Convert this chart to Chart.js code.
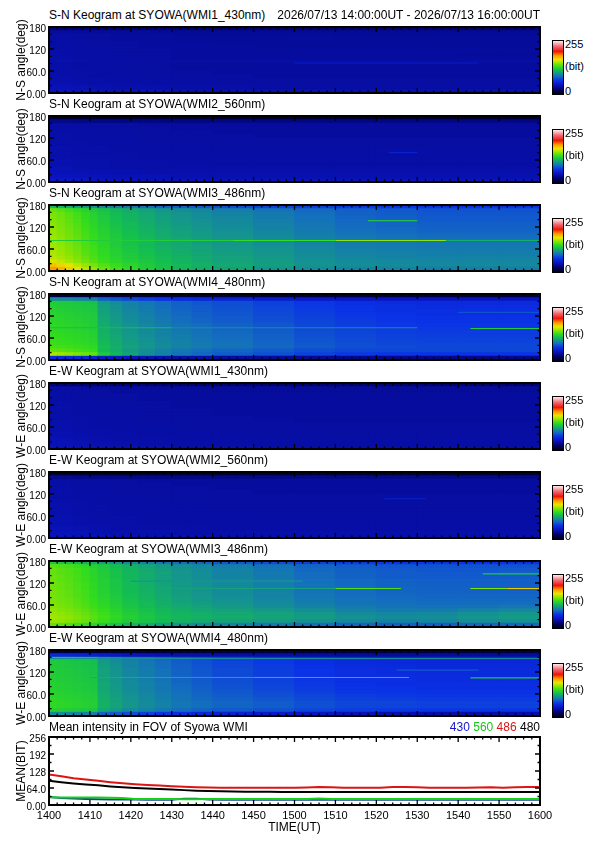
<!DOCTYPE html>
<html>
<head>
<meta charset="utf-8">
<script src="https://cdn.jsdelivr.net/npm/chart.js@4/dist/chart.umd.min.js"></script>
<style>
  body { margin: 0; width: 595px; height: 842px; background: #fff; position: relative; overflow: hidden;
         font-family: "Liberation Sans", Arial, sans-serif; color: #000; }
  canvas { position: absolute; left: 0; }
  .txt { position: absolute; font-size: 12px; line-height: 14px; white-space: nowrap; }
  .cbar { position: absolute; left: 552px; width: 10px; border: 1px solid #000; }
  .cbl { position: absolute; left: 565px; font-size: 11px; line-height: 12px; white-space: nowrap; }
</style>
</head>
<body>
<script>
// ---- time / angle bins (minutes after 14:00 UT, degrees) ----
const timeEdges = [0, 2, 4, 6, 8, 10, 12, 15, 18, 22, 26, 30, 35, 40, 50, 60, 70, 80, 90, 100, 110, 120];
const angleRows = [175, 165, 155, 145, 135, 125, 115, 105, 95, 85, 75, 65, 55, 45, 35, 25, 15, 5];
const angleTicks = [0, 60, 120, 180];
const angleTickLabels = ['0.00', '60.0', '120', '180'];
const timeTicks = [0, 10, 20, 30, 40, 50, 60, 70, 80, 90, 100, 110, 120];
const timeTickLabels = ['1400', '1410', '1420', '1430', '1440', '1450', '1500', '1510', '1520', '1530', '1540', '1550', '1600'];

// ---- keogram intensities (bit), rows top (175 deg) to bottom (5 deg), one value per time bin ----
const snWmi1 = [
  [22,22,22,22,22,22,22,22,22,22,22,22,22,22,22,22,22,22,22,22,22],
  [36,36,36,36,36,35,35,35,35,35,34,34,34,34,34,34,34,34,34,34,34],
  [38,38,38,37,37,37,37,36,36,36,36,35,35,35,35,35,35,35,35,35,35],
  [38,38,38,37,37,37,37,36,36,36,36,35,35,35,35,36,35,35,35,35,35],
  [38,38,38,38,38,37,37,37,37,36,36,36,36,35,35,35,35,36,35,35,35],
  [38,38,38,38,38,37,37,37,37,36,36,36,36,36,35,35,35,35,35,35,35],
  [39,39,39,38,38,38,38,37,37,37,37,36,36,36,36,36,36,36,36,36,36],
  [39,39,39,38,38,38,38,37,37,37,37,36,36,36,36,36,36,36,36,35,35],
  [39,39,39,38,38,38,38,37,37,37,37,36,36,36,36,36,36,36,36,36,36],
  [40,40,40,39,39,38,38,38,38,37,37,37,37,37,37,38,38,38,37,37,37],
  [39,39,39,38,38,38,38,37,37,37,37,36,36,36,36,36,36,36,36,36,36],
  [39,39,39,38,38,38,38,37,37,37,37,36,36,36,36,36,36,36,36,36,36],
  [39,39,39,39,39,38,38,38,38,37,37,37,37,36,36,36,36,36,36,36,36],
  [40,40,40,39,39,38,38,38,38,37,37,37,37,37,36,36,36,36,36,36,36],
  [40,40,40,39,39,39,39,38,38,38,38,37,37,37,37,37,37,37,37,37,37],
  [41,41,41,40,40,39,39,39,39,38,38,38,38,37,37,37,37,37,37,37,37],
  [43,43,43,42,42,41,41,40,40,40,40,39,39,39,38,38,38,38,38,38,38],
  [45,45,45,44,44,43,43,42,42,42,42,41,41,40,40,40,40,40,40,40,40]
];
const snWmi2 = [
  [8,8,8,8,8,8,8,8,8,8,8,8,8,8,8,8,8,8,8,8,8],
  [30,30,30,29,29,29,29,28,28,28,28,28,28,28,28,28,28,28,28,28,28],
  [38,38,38,37,37,37,37,37,37,36,36,36,36,36,36,36,36,36,36,36,36],
  [38,38,38,38,38,37,37,37,37,37,37,36,36,36,36,36,36,36,36,36,36],
  [39,39,39,38,38,38,38,37,37,37,37,37,37,36,36,36,36,36,36,36,36],
  [39,39,39,38,38,38,38,38,38,37,37,37,37,37,36,36,36,36,36,36,36],
  [39,39,39,38,38,38,38,38,38,37,37,37,37,37,37,37,37,37,37,37,37],
  [39,39,39,39,39,38,38,38,38,38,38,37,37,37,37,37,37,37,37,37,37],
  [40,40,40,39,39,39,39,38,38,38,38,38,38,37,37,37,37,37,37,37,37],
  [40,40,40,39,39,39,39,38,38,38,38,38,38,38,38,38,38,39,38,38,38],
  [40,40,40,39,39,39,39,39,39,38,38,38,38,38,38,38,38,38,38,38,38],
  [40,40,40,40,40,39,39,39,39,38,38,38,38,38,38,38,38,38,38,38,38],
  [41,41,41,40,40,40,40,39,39,39,39,38,38,38,38,38,38,38,38,38,38],
  [41,41,41,40,40,40,40,39,39,39,39,39,39,38,38,38,38,38,38,38,38],
  [42,42,42,41,41,40,40,40,40,39,39,39,39,39,39,39,39,39,39,39,39],
  [43,43,43,42,42,41,41,41,41,40,40,40,40,40,40,40,40,40,40,40,40],
  [45,45,45,44,44,43,43,42,42,42,42,41,41,41,41,41,41,41,41,41,41],
  [47,47,47,46,46,45,45,44,44,43,43,43,43,42,42,42,42,42,42,42,42]
];
const snWmi3 = [
  [112,110,107,104,101,98,95,92,89,86,83,80,78,75,72,70,68,67,66,66,66],
  [140,137,133,129,125,121,117,112,108,104,100,97,94,91,87,83,80,78,76,76,76],
  [144,141,137,133,128,124,119,114,110,106,102,99,96,93,89,85,81,79,77,77,77],
  [145,142,138,134,129,125,120,115,111,107,103,100,97,94,90,86,82,80,78,78,78],
  [146,143,139,135,130,126,121,116,112,108,104,101,98,95,91,87,83,81,79,79,79],
  [147,144,140,136,131,127,122,117,113,109,105,102,99,96,92,88,84,82,80,80,80],
  [148,145,141,137,132,128,123,118,114,110,106,103,100,97,93,89,85,83,81,81,81],
  [149,146,142,138,133,129,124,119,115,111,107,104,101,98,94,90,86,84,82,82,82],
  [150,147,143,139,134,130,125,120,116,112,108,105,102,99,95,91,88,86,84,84,84],
  [151,148,144,140,135,131,126,121,117,113,109,106,103,100,97,93,90,88,87,86,86],
  [151,148,144,140,135,131,126,121,117,113,109,106,103,100,97,93,90,89,88,88,88],
  [152,149,145,141,136,132,127,122,118,114,110,107,104,101,98,94,91,90,89,89,89],
  [153,150,146,142,137,133,128,123,119,115,111,108,105,102,99,95,92,91,90,90,90],
  [154,151,147,143,138,134,129,124,120,116,112,109,106,103,100,96,93,92,91,91,91],
  [156,153,149,145,140,135,130,125,121,117,113,110,107,104,101,97,94,93,92,92,92],
  [161,157,153,148,143,138,132,127,123,119,115,111,108,105,102,98,96,95,94,94,94],
  [174,169,163,156,150,144,137,131,126,121,117,113,110,107,103,99,97,96,95,95,95],
  [184,178,171,163,156,149,141,134,128,122,117,112,108,105,100,96,93,92,91,91,91]
];
const snWmi4 = [
  [14,14,14,14,13,13,13,13,12,12,12,12,12,12,12,12,12,12,12,12,12],
  [96,95,94,93,92,91,80,76,72,68,64,61,58,55,51,48,46,45,45,45,45],
  [122,121,120,119,118,117,102,97,92,88,84,80,77,74,70,66,63,61,60,60,60],
  [123,122,121,120,119,118,103,98,93,89,85,81,78,75,71,67,64,62,61,61,61],
  [124,123,122,121,120,119,104,99,94,90,86,82,79,76,72,68,65,63,62,62,62],
  [125,124,123,122,121,120,105,100,95,91,87,83,80,77,73,69,66,64,63,63,63],
  [126,125,124,123,122,121,106,101,96,92,88,84,81,78,74,70,67,65,64,64,64],
  [127,126,125,124,123,121,107,102,97,93,89,85,82,79,75,71,68,66,65,65,65],
  [128,127,126,125,124,122,108,103,98,94,90,87,84,81,77,72,69,67,66,66,66],
  [128,127,126,125,124,122,109,104,99,95,91,88,85,82,78,73,70,68,67,67,67],
  [129,128,127,126,125,123,110,105,100,96,92,89,86,83,79,74,71,69,68,68,68],
  [130,129,128,127,126,124,111,106,101,97,93,90,87,84,80,75,72,70,69,69,69],
  [131,130,129,128,127,125,112,107,102,98,94,91,88,85,81,76,73,71,70,70,70],
  [132,131,130,129,128,126,113,108,103,99,95,92,89,86,82,77,74,72,71,71,71],
  [134,133,132,131,130,128,115,109,104,100,96,93,90,87,83,78,75,73,72,72,72],
  [139,138,136,134,132,130,114,108,102,97,92,88,85,82,78,74,72,72,72,72,72],
  [154,151,148,145,142,139,120,112,104,97,92,87,83,79,75,70,67,66,65,65,65],
  [60,59,58,57,56,55,48,46,44,42,40,38,37,36,34,32,31,30,30,30,30]
];
const ewWmi1 = [
  [24,24,24,24,24,24,24,24,24,24,24,24,24,24,24,24,24,24,24,24,24],
  [37,37,37,37,36,36,36,36,36,35,35,35,35,35,35,35,35,35,35,35,35],
  [38,38,38,37,37,37,37,36,36,36,36,36,36,35,35,35,35,35,35,35,35],
  [38,38,38,37,37,37,37,37,37,36,36,36,36,36,36,36,36,36,36,36,36],
  [38,38,38,38,38,37,37,37,37,36,36,36,36,36,36,36,36,36,36,36,36],
  [39,39,39,38,38,37,37,37,37,37,37,36,36,36,36,36,36,36,36,36,36],
  [39,39,39,38,38,38,38,37,37,37,37,36,36,36,36,36,36,36,36,36,36],
  [39,39,39,38,38,38,38,37,37,37,37,37,37,36,36,36,36,36,36,36,36],
  [39,39,39,38,38,38,38,38,38,37,37,37,37,36,36,36,36,36,36,36,36],
  [39,39,39,39,39,38,38,38,38,37,37,37,37,37,36,36,36,36,36,36,36],
  [40,40,40,39,39,38,38,38,38,37,37,37,37,37,37,36,36,36,36,36,36],
  [40,40,40,39,39,38,38,38,38,38,38,37,37,37,37,37,37,37,37,37,37],
  [40,40,40,39,39,39,39,38,38,38,38,37,37,37,37,37,37,37,37,37,37],
  [41,41,41,40,40,39,39,39,39,38,38,38,38,37,37,37,37,37,37,37,37],
  [41,41,41,40,40,39,39,39,39,38,38,38,38,38,37,37,37,37,37,37,37],
  [42,42,42,41,41,40,40,39,39,39,39,38,38,38,38,38,38,38,38,38,38],
  [43,43,43,42,42,41,41,40,40,39,39,39,39,38,38,38,38,38,38,38,38],
  [44,44,44,43,43,42,42,41,41,40,40,39,39,39,38,38,38,38,38,38,38]
];
const ewWmi2 = [
  [10,10,10,10,10,10,10,10,10,10,10,10,10,10,10,10,10,10,10,10,10],
  [32,32,32,31,31,31,31,30,30,30,30,30,30,30,30,30,30,30,30,30,30],
  [38,38,38,37,37,37,37,37,37,36,36,36,36,36,36,36,36,36,36,36,36],
  [38,38,38,38,38,37,37,37,37,37,37,36,36,36,36,36,36,36,36,36,36],
  [39,39,39,38,38,38,38,37,37,37,37,37,37,36,36,36,36,36,36,36,36],
  [39,39,39,38,38,38,38,37,37,37,37,37,37,37,36,36,36,36,36,36,36],
  [39,39,39,38,38,38,38,38,38,37,37,37,37,37,37,37,37,37,37,37,37],
  [39,39,39,39,39,38,38,38,38,37,37,37,37,37,37,37,37,37,37,37,37],
  [40,40,40,39,39,38,38,38,38,38,38,37,37,37,37,37,37,37,37,37,37],
  [40,40,40,39,39,39,39,38,38,38,38,37,37,37,37,37,37,37,37,37,37],
  [40,40,40,39,39,39,39,38,38,38,38,38,38,37,37,37,37,37,37,37,37],
  [40,40,40,39,39,39,39,38,38,38,38,38,38,38,37,37,37,37,37,37,37],
  [41,41,41,40,40,39,39,39,39,38,38,38,38,38,38,38,38,38,38,38,38],
  [41,41,41,40,40,39,39,39,39,38,38,38,38,38,38,38,38,38,38,38,38],
  [41,41,41,40,40,40,40,39,39,39,39,38,38,38,38,38,38,38,38,38,38],
  [42,42,42,41,41,40,40,39,39,39,39,39,39,38,38,38,38,38,38,38,38],
  [43,43,43,42,42,41,41,40,40,40,40,39,39,39,39,39,39,39,39,39,39],
  [44,44,44,43,43,42,42,41,41,40,40,40,40,39,39,39,39,39,39,39,39]
];
const ewWmi3 = [
  [120,119,117,114,111,108,104,100,96,92,88,85,82,78,74,70,68,66,66,65,65],
  [138,136,134,131,128,124,120,115,110,106,102,98,95,91,87,82,79,77,76,76,76],
  [140,138,136,133,130,126,121,116,111,107,103,99,96,92,88,83,80,78,77,77,78],
  [140,138,136,133,130,126,122,117,112,108,104,100,97,93,89,84,81,79,78,78,80],
  [141,139,137,134,131,127,122,117,112,108,104,100,97,93,89,84,81,79,78,78,79],
  [141,139,137,134,131,127,123,118,113,109,105,101,98,95,91,86,83,81,80,80,80],
  [142,140,138,135,132,128,123,118,113,109,105,101,98,95,91,86,83,81,80,80,80],
  [142,140,138,135,132,128,124,119,114,110,106,102,99,96,92,87,84,82,81,81,81],
  [143,141,139,136,133,129,124,119,114,110,106,102,99,96,92,87,84,82,81,81,81],
  [143,141,139,136,133,129,125,120,115,111,107,103,100,97,93,88,85,83,82,82,82],
  [144,142,140,137,134,130,126,121,116,112,108,104,101,98,94,89,86,84,83,83,83],
  [145,143,141,138,135,131,127,122,117,113,109,105,102,99,95,90,87,85,84,84,84],
  [146,144,142,139,136,132,128,123,118,114,110,107,104,101,97,93,89,87,86,87,88],
  [148,146,144,141,138,134,130,125,120,116,112,109,106,104,101,97,92,90,90,92,94],
  [150,148,146,143,140,136,132,127,122,118,114,111,109,107,104,101,96,94,95,98,100],
  [152,150,148,145,142,138,133,128,123,119,115,112,110,108,105,102,98,96,97,100,102],
  [150,148,146,143,140,136,131,126,121,117,113,110,107,105,102,99,95,93,94,97,98],
  [140,138,136,133,130,126,121,116,111,107,103,99,96,93,89,85,82,80,80,82,83]
];
const ewWmi4 = [
  [12,12,12,12,12,12,12,12,12,12,12,12,12,12,12,12,12,12,12,12,12],
  [58,57,56,55,54,53,50,47,45,43,41,40,39,38,37,36,35,35,35,35,35],
  [119,118,117,116,115,114,100,95,90,86,82,78,74,70,66,62,59,58,57,57,57],
  [121,120,119,118,117,116,102,97,92,88,84,79,75,71,67,63,60,59,58,58,58],
  [121,120,119,118,117,116,103,98,93,89,85,80,76,72,68,64,61,60,59,59,59],
  [122,121,120,119,118,117,104,99,94,90,86,81,77,73,69,65,62,61,60,60,60],
  [122,121,120,119,118,117,104,99,94,90,86,81,77,73,69,65,62,61,60,60,60],
  [123,122,121,120,119,118,105,100,95,91,87,82,78,74,70,66,63,62,61,61,61],
  [123,122,121,120,119,118,105,100,95,91,87,82,78,74,70,66,63,62,61,61,61],
  [124,123,122,121,120,119,106,101,96,92,88,83,79,75,71,67,64,63,62,62,62],
  [124,123,122,121,120,119,106,101,96,92,88,84,80,76,72,68,65,64,63,63,63],
  [125,124,123,122,121,120,107,102,97,93,89,85,81,77,73,69,66,65,64,64,64],
  [126,125,124,123,122,121,108,103,98,94,90,86,82,79,75,71,68,67,66,66,66],
  [127,126,125,124,123,122,109,104,99,95,91,87,83,80,77,73,70,69,68,68,68],
  [128,127,126,125,124,123,110,105,100,96,92,88,85,82,79,75,72,71,70,70,70],
  [128,127,126,125,124,123,110,105,100,96,92,88,85,82,79,75,72,71,70,70,70],
  [124,123,122,121,120,119,106,101,96,92,88,84,81,78,75,71,68,67,66,66,66],
  [96,95,94,93,92,91,82,78,74,70,66,62,58,54,50,46,42,40,38,38,38]
];

// ---- thin auroral arcs: [angle deg, start min, end min, intensity] ----
const arcsSn1 = [[82, 60, 105, 50]];
const arcsSn2 = [[80, 83, 90, 54]];
const arcsSn3 = [[83, 0, 45, 122], [83, 45, 70, 130], [83, 70, 97, 148], [83, 97, 120, 110], [137, 78, 90, 128]];
const arcsSn4 = [[88, 0, 30, 115], [88, 30, 90, 98], [86, 103, 120, 122], [130, 100, 120, 76]];
const arcsEw1 = [];
const arcsEw2 = [[107, 82, 92, 54]];
const arcsEw3 = [[105, 30, 70, 104], [105, 70, 86, 136], [105, 103, 112, 146], [105, 112, 120, 172], [145, 106, 120, 120], [125, 20, 62, 100]];
const arcsEw4 = [[157, 0, 120, 96], [105, 10, 50, 110], [105, 50, 88, 120], [104, 103, 120, 120], [125, 85, 105, 78]];

// ---- mean intensity in FOV (bit), every 3 minutes ----
const meanTimes = [0,3,6,9,12,15,18,21,24,27,30,33,36,39,42,45,48,51,54,57,60,63,66,69,72,75,78,81,84,87,90,93,96,99,102,105,108,111,114,117,120];
const mean430 = [30,26,24,23,22,21,21,21,20,20,20,24,24,21,20,20,20,20,20,20,20,20,21,20,20,20,20,20,20,20,20,20,20,20,20,20,20,20,20,20,20];
const mean560 = [29,28,28,28,28,27,26,23,23,23,23,22,22,23,23,23,23,23,23,23,23,23,24,23,23,23,23,23,23,23,23,23,23,23,23,23,23,23,23,23,23];
const mean486 = [115,108,101,96,91,86,82,78,75,73,71,69,67,66,65,65,65,65,65,65,65,66,68,67,65,65,65,65,68,68,67,65,65,65,65,66,67,65,67,68,68];
const mean480 = [91,86,81,77,74,70,67,64,62,60,58,56,54,53,52,51,50,50,50,49,49,49,49,49,49,49,49,49,49,49,49,49,49,49,49,49,49,49,49,49,49];
const meanTicks = [0, 64, 128, 192, 256];
const meanTickLabels = ['0.00', '64.0', '128', '192', '256'];

// ---- colour table ----
const cmapStops = [
  [0, 0, 0, 20], [20, 0, 0, 100], [45, 10, 20, 190], [65, 10, 50, 230], [85, 20, 110, 190],
  [100, 20, 150, 140], [115, 20, 190, 80], [130, 50, 220, 30], [150, 150, 230, 0], [165, 235, 230, 0],
  [185, 255, 150, 0], [205, 240, 20, 10], [230, 240, 110, 120], [255, 255, 235, 235]
];
function cmap(v) {
  for (let i = 1; i < cmapStops.length; i++) {
    const a = cmapStops[i - 1], b = cmapStops[i];
    if (v <= b[0]) {
      const t = (v - a[0]) / (b[0] - a[0]);
      return 'rgb(' + [1, 2, 3].map(k => Math.round(a[k] + (b[k] - a[k]) * t)).join(',') + ')';
    }
  }
  return 'rgb(255,235,235)';
}

Chart.defaults.font.family = '"Liberation Sans", Arial, sans-serif';
Chart.defaults.color = '#000';

function isMajor(v, step) { return Math.abs(Math.round(v / step) * step - v) < 1e-6; }

// black plot background, frame and inward ticks like the IDL original
const framePlugin = {
  id: 'frame',
  beforeDatasetsDraw(chart, args, o) {
    if (!o.fill) return;
    const a = chart.chartArea, ctx = chart.ctx;
    ctx.save();
    ctx.fillStyle = o.fill;
    ctx.fillRect(a.left, a.top, a.right - a.left, a.bottom - a.top);
    ctx.restore();
  },
  afterDraw(chart, args, o) {
    const a = chart.chartArea, ctx = chart.ctx, sx = chart.scales.x, sy = chart.scales.y;
    ctx.save();
    ctx.strokeStyle = '#000';
    ctx.lineWidth = 1.3;
    ctx.beginPath();
    for (let v = sx.min; v <= sx.max + 1e-9; v += o.xMinor) {
      const p = sx.getPixelForValue(v), len = isMajor(v, o.xMajor) ? 5 : 2.5;
      ctx.moveTo(p, a.top); ctx.lineTo(p, a.top + len);
      ctx.moveTo(p, a.bottom); ctx.lineTo(p, a.bottom - len);
    }
    for (let v = sy.min; v <= sy.max + 1e-9; v += o.yMinor) {
      const p = sy.getPixelForValue(v), len = isMajor(v, o.yMajor) ? 5 : 2.5;
      ctx.moveTo(a.left, p); ctx.lineTo(a.left + len, p);
      ctx.moveTo(a.right, p); ctx.lineTo(a.right - len, p);
    }
    ctx.stroke();
    ctx.lineWidth = 2;
    ctx.strokeRect(a.left, a.top, a.right - a.left, a.bottom - a.top);
    ctx.restore();
  }
};
Chart.register(framePlugin);

function addText(text, left, top, extra) {
  const d = document.createElement('div');
  d.className = 'txt';
  d.textContent = text;
  d.style.left = left + 'px';
  d.style.top = top + 'px';
  if (extra) Object.assign(d.style, extra);
  document.body.appendChild(d);
  return d;
}

function addColorbar(frameTop) {
  const top = frameTop + 16;
  const bar = document.createElement('div');
  bar.className = 'cbar';
  bar.style.top = top + 'px';
  bar.style.height = '53px';
  bar.style.background = 'linear-gradient(to top,' +
    cmapStops.map(s => cmap(s[0]) + ' ' + (s[0] / 255 * 100).toFixed(1) + '%').join(',') + ')';
  document.body.appendChild(bar);
  [['255', top - 2], ['(bit)', top + 20], ['0', top + 45]].forEach(([t, y]) => {
    const l = document.createElement('div');
    l.className = 'cbl';
    l.textContent = t;
    l.style.top = y + 'px';
    document.body.appendChild(l);
  });
}

const panels = [
  ['S-N Keogram at SYOWA(WMI1_430nm)', 'N-S angle(deg)', snWmi1, arcsSn1],
  ['S-N Keogram at SYOWA(WMI2_560nm)', 'N-S angle(deg)', snWmi2, arcsSn2],
  ['S-N Keogram at SYOWA(WMI3_486nm)', 'N-S angle(deg)', snWmi3, arcsSn3],
  ['S-N Keogram at SYOWA(WMI4_480nm)', 'N-S angle(deg)', snWmi4, arcsSn4],
  ['E-W Keogram at SYOWA(WMI1_430nm)', 'W-E angle(deg)', ewWmi1, arcsEw1],
  ['E-W Keogram at SYOWA(WMI2_560nm)', 'W-E angle(deg)', ewWmi2, arcsEw2],
  ['E-W Keogram at SYOWA(WMI3_486nm)', 'W-E angle(deg)', ewWmi3, arcsEw3],
  ['E-W Keogram at SYOWA(WMI4_480nm)', 'W-E angle(deg)', ewWmi4, arcsEw4]
];

panels.forEach(([title, yTitle, grid, arcs], i) => {
  const frameTop = 24 + 89 * i;
  addText(title, 49, frameTop - 16);
  addColorbar(frameTop);

  const cv = document.createElement('canvas');
  cv.width = 545; cv.height = 84;
  cv.style.top = (frameTop - 6) + 'px';
  document.body.appendChild(cv);

  const cells = [], colors = [];
  grid.forEach((row, r) => row.forEach((v, c) => {
    cells.push({ y: angleRows[r], x: [timeEdges[c], timeEdges[c + 1]] });
    colors.push(cmap(v));
  }));
  const datasets = [{
    type: 'bar', data: cells, backgroundColor: colors, borderWidth: 0,
    barPercentage: 1, categoryPercentage: 1, inflateAmount: 0.5, order: 10
  }];
  arcs.forEach(a => datasets.push({
    type: 'line', data: [{ x: a[1], y: a[0] }, { x: a[2], y: a[0] }],
    borderColor: cmap(a[3]), borderWidth: 1.1, pointRadius: 0, fill: false, order: 0
  }));

  new Chart(cv, {
    type: 'bar',
    data: { datasets },
    options: {
      indexAxis: 'y', responsive: false, animation: false, events: [],
      layout: { padding: { left: 0, right: 5, top: 6, bottom: 6 } },
      plugins: {
        legend: { display: false }, tooltip: { enabled: false },
        frame: { fill: '#000', xMinor: 2, xMajor: 10, yMinor: 20, yMajor: 60 }
      },
      scales: {
        x: { type: 'linear', min: 0, max: 120, offset: false, display: false },
        y: {
          type: 'linear', min: 0, max: 180, offset: false,
          afterFit(s) { s.width = 49; },
          afterBuildTicks(s) { s.ticks = angleTicks.map(v => ({ value: v })); },
          grid: { display: false, drawTicks: false }, border: { display: false },
          ticks: { padding: 3, labelOffset: 2, font: { size: 10 }, color: '#000',
                   callback: v => angleTickLabels[angleTicks.indexOf(v)] },
          title: { display: true, text: yTitle, font: { size: 12 }, color: '#000', padding: { top: 14, bottom: 0 } }
        }
      }
    }
  });
});

addText('2026/07/13 14:00:00UT - 2026/07/13 16:00:00UT', 0, 8, { left: 'auto', right: '55px' });

// ---- mean intensity panel ----
addText('Mean intensity in FOV of Syowa WMI', 49, 720);
const leg = addText('', 0, 720, { left: 'auto', right: '55px' });
leg.innerHTML = '<span style="color:#1414c8">430</span> <span style="color:#14c814">560</span> ' +
                '<span style="color:#dc1414">486</span> <span style="color:#000">480</span>';

const cvMean = document.createElement('canvas');
cvMean.width = 565; cvMean.height = 109;
cvMean.style.top = '728px';
document.body.appendChild(cvMean);

function series(vals, color) {
  return { data: meanTimes.map((t, i) => ({ x: t, y: vals[i] })), borderColor: color,
           borderWidth: 2, pointRadius: 0, fill: false, tension: 0 };
}

new Chart(cvMean, {
  type: 'line',
  data: {
    datasets: [
      series(mean480, '#000000'),
      series(mean486, '#dc1414'),
      series(mean560, '#14d214'),
      series(mean430, '#1e3ca0')
    ]
  },
  options: {
    responsive: false, animation: false, events: [],
    layout: { padding: { left: 0, right: 25, top: 6, bottom: 2 } },
    plugins: {
      legend: { display: false }, tooltip: { enabled: false },
      frame: { fill: null, xMinor: 2, xMajor: 10, yMinor: 32, yMajor: 64 }
    },
    scales: {
      x: {
        type: 'linear', min: 0, max: 120,
        afterFit(s) { s.height = 30; },
        afterBuildTicks(s) { s.ticks = timeTicks.map(v => ({ value: v })); },
        grid: { display: false, drawTicks: false }, border: { display: false },
        ticks: { padding: 4, maxRotation: 0, autoSkip: false, font: { size: 11 }, color: '#000',
                 callback: v => timeTickLabels[timeTicks.indexOf(v)] },
        title: { display: true, text: 'TIME(UT)', font: { size: 12 }, color: '#000', padding: { top: 0, bottom: 0 } }
      },
      y: {
        type: 'linear', min: 0, max: 256,
        afterFit(s) { s.width = 49; },
        afterBuildTicks(s) { s.ticks = meanTicks.map(v => ({ value: v })); },
        grid: { display: false, drawTicks: false }, border: { display: false },
        ticks: { padding: 3, labelOffset: 2, font: { size: 10 }, color: '#000',
                 callback: v => meanTickLabels[meanTicks.indexOf(v)] },
        title: { display: true, text: 'MEAN(BIT)', font: { size: 12 }, color: '#000', padding: { top: 14, bottom: 0 } }
      }
    }
  }
});
</script>
</body>
</html>
